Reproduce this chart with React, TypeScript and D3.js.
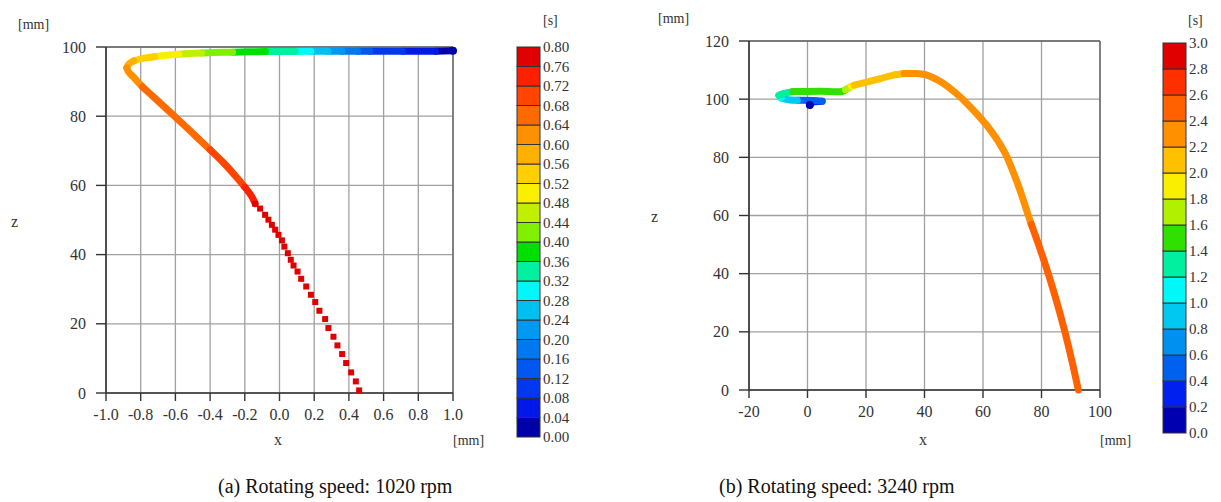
import React from "react";
import * as d3 from "d3";

// ---------- (a) 1020 rpm ----------
const aLineX = [1.0, 0.9, 0.8, 0.71, 0.62, 0.52, 0.45, 0.36, 0.28, 0.18, 0.09, -0.08, -0.18, -0.27, -0.38, -0.45, -0.52, -0.58, -0.65, -0.72, -0.78, -0.84, -0.87, -0.88, -0.87, -0.84, -0.79, -0.72, -0.64, -0.56, -0.48, -0.4, -0.32, -0.25, -0.2, -0.16, -0.14];
const aLineZ = [98.9, 98.8, 98.8, 98.8, 98.8, 98.8, 98.8, 98.8, 98.8, 98.8, 98.7, 98.7, 98.6, 98.5, 98.4, 98.3, 98.1, 97.9, 97.6, 97.2, 96.8, 96.0, 95.0, 94.0, 92.8, 91.2, 88.5, 85.3, 81.6, 77.9, 74.1, 70.3, 66.4, 62.5, 59.5, 56.8, 54.7];
const aLineT = [0.02, 0.05, 0.07, 0.09, 0.12, 0.15, 0.18, 0.21, 0.25, 0.29, 0.33, 0.37, 0.39, 0.41, 0.43, 0.45, 0.47, 0.49, 0.51, 0.53, 0.55, 0.57, 0.59, 0.61, 0.62, 0.63, 0.65, 0.66, 0.66, 0.67, 0.67, 0.69, 0.7, 0.71, 0.73, 0.74, 0.75];
const aMarkX = [-0.14, -0.112, -0.083, -0.064, -0.044, -0.025, -0.006, 0.014, 0.028, 0.048, 0.065, 0.081, 0.104, 0.125, 0.154, 0.181, 0.206, 0.23, 0.263, 0.282, 0.311, 0.334, 0.361, 0.384, 0.413, 0.44, 0.459];
const aMarkZ = [54.7, 53.3, 51.5, 50.1, 48.6, 47.2, 45.7, 44.1, 42.3, 40.4, 38.5, 36.85, 35.1, 33.0, 30.78, 28.39, 26.28, 23.77, 21.37, 18.77, 16.26, 13.75, 11.26, 8.66, 5.95, 3.35, 0.75];
const aMarkT = [0.76, 0.76, 0.76, 0.76, 0.77, 0.77, 0.77, 0.77, 0.77, 0.77, 0.78, 0.78, 0.78, 0.78, 0.78, 0.78, 0.78, 0.79, 0.79, 0.79, 0.79, 0.79, 0.79, 0.79, 0.79, 0.79, 0.79];
const aXTicks = [-1.0, -0.8, -0.6, -0.4, -0.2, 0.0, 0.2, 0.4, 0.6, 0.8, 1.0];
const aZTicks = [0, 20, 40, 60, 80, 100];
const aBarTicks = [0, 0.04, 0.08, 0.12, 0.16, 0.2, 0.24, 0.28, 0.32, 0.36, 0.4, 0.44, 0.48, 0.52, 0.56, 0.6, 0.64, 0.68, 0.72, 0.76, 0.8];
const aColors = ["#0000a8", "#0018e8", "#0038f0", "#0058f0", "#0078f0", "#0098f0", "#00c0f0", "#00f8f8", "#00f0a0", "#00e000", "#80f000", "#c0f000", "#f8f000", "#ffd000", "#ffb000", "#ff9000", "#ff6a00", "#ff4400", "#ff2000", "#e00000"];

// ---------- (b) 3240 rpm ----------
const bLineX = [0.8, 1.5, 5.0, 2.0, -2.0, -3.5, -6.5, -9.0, -9.8, -8.0, -5.0, 4.0, 12.0, 13.0, 15.0, 16.0, 20.0, 25.0, 29.0, 33.0, 37.0, 41.0, 45.0, 49.0, 52.5, 57.8, 62.8, 67.5, 72.0, 75.5, 76.5, 79.0, 82.3, 85.3, 88.0, 90.4, 92.6];
const bLineZ = [98.0, 99.0, 99.3, 99.5, 99.6, 99.6, 99.8, 100.4, 101.3, 102.0, 102.6, 102.7, 102.7, 103.2, 104.4, 104.8, 105.8, 107.1, 108.2, 108.8, 108.8, 108.2, 106.3, 103.5, 100.5, 95.0, 89.0, 81.5, 70.5, 60.0, 57.0, 50.0, 40.0, 30.0, 20.0, 10.0, 0.0];
const bLineT = [0.1, 0.3, 0.45, 0.5, 0.55, 0.85, 0.95, 1.1, 1.25, 1.3, 1.45, 1.5, 1.5, 1.7, 1.9, 2.05, 2.1, 2.1, 2.15, 2.3, 2.3, 2.3, 2.3, 2.3, 2.3, 2.3, 2.3, 2.3, 2.3, 2.35, 2.45, 2.5, 2.5, 2.5, 2.5, 2.5, 2.5];
const bXTicks = [-20, 0, 20, 40, 60, 80, 100];
const bZTicks = [0, 20, 40, 60, 80, 100, 120];
const bBarTicks = [0, 0.2, 0.4, 0.6, 0.8, 1.0, 1.2, 1.4, 1.6, 1.8, 2.0, 2.2, 2.4, 2.6, 2.8, 3.0];
const bColors = ["#0000b0", "#0020f0", "#0060f0", "#0090f0", "#00c8f0", "#00f8f8", "#00f0a0", "#30e000", "#b0f000", "#f8f000", "#ffc000", "#ff9000", "#ff6000", "#ff3000", "#e00000"];

const SERIF = "'Liberation Serif', 'DejaVu Serif', serif";

type PanelProps = {
  xDom: [number, number]; zDom: [number, number];
  xr: [number, number]; zr: [number, number];
  xTicks: number[]; zTicks: number[]; xFmt: (v: number) => string;
  lx: number[]; lz: number[]; lt: number[];
  mx?: number[]; mz?: number[]; mt?: number[];
  colors: string[]; tMax: number; barTicks: number[]; barFmt: (v: number) => string;
  barX: number; barTop: number; barBottom: number;
  lineW: number;
  mmTop: [number, number]; zLab: [number, number]; xLab: [number, number]; mmX: [number, number]; sLab: [number, number];
};

function Panel(p: PanelProps) {
  const x = d3.scaleLinear().domain(p.xDom).range(p.xr);
  const z = d3.scaleLinear().domain(p.zDom).range(p.zr);
  const col = d3.scaleQuantize<string>().domain([0, p.tMax]).range(p.colors);
  const bar = d3.scaleLinear().domain([0, p.tMax]).range([p.barBottom, p.barTop]);
  const [x0, x1] = p.xr;
  const [zb, zt] = p.zr;
  const bins = p.barTicks.slice(0, -1);

  // group consecutive points of the same colour; each group is joined to the next one's first point
  const pts = p.lx.map((v, i) => ({ x: x(v), y: z(p.lz[i]), c: col(p.lt[i]) }));
  const groups: { c: string; pts: { x: number; y: number }[] }[] = [];
  pts.forEach((pt) => {
    const last = groups[groups.length - 1];
    if (last && last.c === pt.c) last.pts.push(pt);
    else {
      if (last) last.pts.push(pt);
      groups.push({ c: pt.c, pts: [pt] });
    }
  });
  const lineGen = d3.line<{ x: number; y: number }>().x((d) => d.x).y((d) => d.y).curve(d3.curveCatmullRom.alpha(0.5));

  return (
    <g>
      {/* grid */}
      {p.xTicks.map((v) => (
        <line key={"gx" + v} x1={x(v)} x2={x(v)} y1={zt} y2={zb} stroke="#a0a0a0" strokeWidth={1.3} />
      ))}
      {p.zTicks.map((v) => (
        <line key={"gz" + v} x1={x0} x2={x1} y1={z(v)} y2={z(v)} stroke="#a0a0a0" strokeWidth={1.3} />
      ))}
      <line x1={x0} x2={x1} y1={zt} y2={zt} stroke="#666" strokeWidth={1.4} />
      <line x1={x1} x2={x1} y1={zt} y2={zb} stroke="#666" strokeWidth={1.4} />
      {/* axes */}
      <line x1={x0} x2={x0} y1={zt} y2={zb} stroke="#333" strokeWidth={1.6} />
      <line x1={x0} x2={x1} y1={zb} y2={zb} stroke="#333" strokeWidth={1.6} />
      {p.zTicks.map((v) => (
        <g key={"tz" + v}>
          <line x1={x0 - 10} x2={x0} y1={z(v)} y2={z(v)} stroke="#333" strokeWidth={1.4} />
          <text x={x0 - 20} y={z(v) + 5.5} textAnchor="end" fontSize={16} fill="#333" fontFamily={SERIF}>{String(v)}</text>
        </g>
      ))}
      {p.xTicks.map((v) => (
        <g key={"tx" + v}>
          <line x1={x(v)} x2={x(v)} y1={zb} y2={zb + 8} stroke="#333" strokeWidth={1.4} />
          <text x={x(v)} y={zb + 27} textAnchor="middle" fontSize={16} fill="#333" fontFamily={SERIF}>{p.xFmt(v)}</text>
        </g>
      ))}
      {/* trajectory line */}
      {groups.map((g, i) => (
        <path key={"g" + i} d={lineGen(g.pts) || ""} fill="none" stroke={g.c} strokeWidth={p.lineW}
          strokeLinecap="round" strokeLinejoin="round" />
      ))}
      <circle cx={pts[0].x} cy={pts[0].y} r={p.lineW / 2 + 0.5} fill={pts[0].c} />
      {(p.mx || []).map((v, i) => (
        <rect key={"m" + i} x={x(v) - 3} y={z(p.mz![i]) - 3} width={6} height={6} fill={col(p.mt![i])} />
      ))}
      {/* axis labels */}
      <text x={p.mmTop[0]} y={p.mmTop[1]} fontSize={14} fill="#333" fontFamily={SERIF}>[mm]</text>
      <text x={p.zLab[0]} y={p.zLab[1]} fontSize={16} fill="#333" fontFamily={SERIF}>z</text>
      <text x={p.xLab[0]} y={p.xLab[1]} textAnchor="middle" fontSize={16} fill="#333" fontFamily={SERIF}>x</text>
      <text x={p.mmX[0]} y={p.mmX[1]} fontSize={14} fill="#333" fontFamily={SERIF}>[mm]</text>
      {/* colorbar */}
      {bins.map((v, i) => (
        <rect key={"b" + i} x={p.barX} y={bar(p.barTicks[i + 1])} width={23} height={bar(v) - bar(p.barTicks[i + 1])}
          fill={p.colors[i]} stroke="#333" strokeWidth={1} />
      ))}
      {p.barTicks.map((v) => (
        <text key={"bt" + v} x={p.barX + 26} y={bar(v) + 5} fontSize={15} fill="#333" fontFamily={SERIF}>{p.barFmt(v)}</text>
      ))}
      <text x={p.sLab[0]} y={p.sLab[1]} fontSize={14} fill="#333" fontFamily={SERIF}>[s]</text>
    </g>
  );
}

export default function App() {
  return (
    <svg width={1221} height={502} style={{ position: "absolute", left: 0, top: 0, background: "#fff" }}>
      <rect width={1221} height={502} fill="#fff" />
      <Panel xDom={[-1, 1]} zDom={[0, 100]} xr={[106, 453]} zr={[393, 47]}
        xTicks={aXTicks} zTicks={aZTicks} xFmt={(v) => v.toFixed(1)}
        lx={aLineX} lz={aLineZ} lt={aLineT} mx={aMarkX} mz={aMarkZ} mt={aMarkT}
        colors={aColors} tMax={0.8} barTicks={aBarTicks} barFmt={(v) => v.toFixed(2)}
        barX={517} barTop={47} barBottom={437} lineW={7}
        mmTop={[18, 29]} zLab={[11, 227]} xLab={[278, 445]} mmX={[453, 445]} sLab={[543, 25]} />
      <Panel xDom={[-20, 100]} zDom={[0, 120]} xr={[749, 1100]} zr={[390, 41]}
        xTicks={bXTicks} zTicks={bZTicks} xFmt={(v) => String(v)}
        lx={bLineX} lz={bLineZ} lt={bLineT}
        colors={bColors} tMax={3.0} barTicks={bBarTicks} barFmt={(v) => v.toFixed(1)}
        barX={1163} barTop={43} barBottom={433} lineW={7}
        mmTop={[658, 23]} zLab={[651, 222]} xLab={[923, 445]} mmX={[1100, 445]} sLab={[1188, 25]} />
      <text x={218} y={493} fontSize={20} fill="#111" fontFamily={SERIF}>(a) Rotating speed: 1020 rpm</text>
      <text x={719} y={493} fontSize={20} fill="#111" fontFamily={SERIF}>(b) Rotating speed: 3240 rpm</text>
    </svg>
  );
}
